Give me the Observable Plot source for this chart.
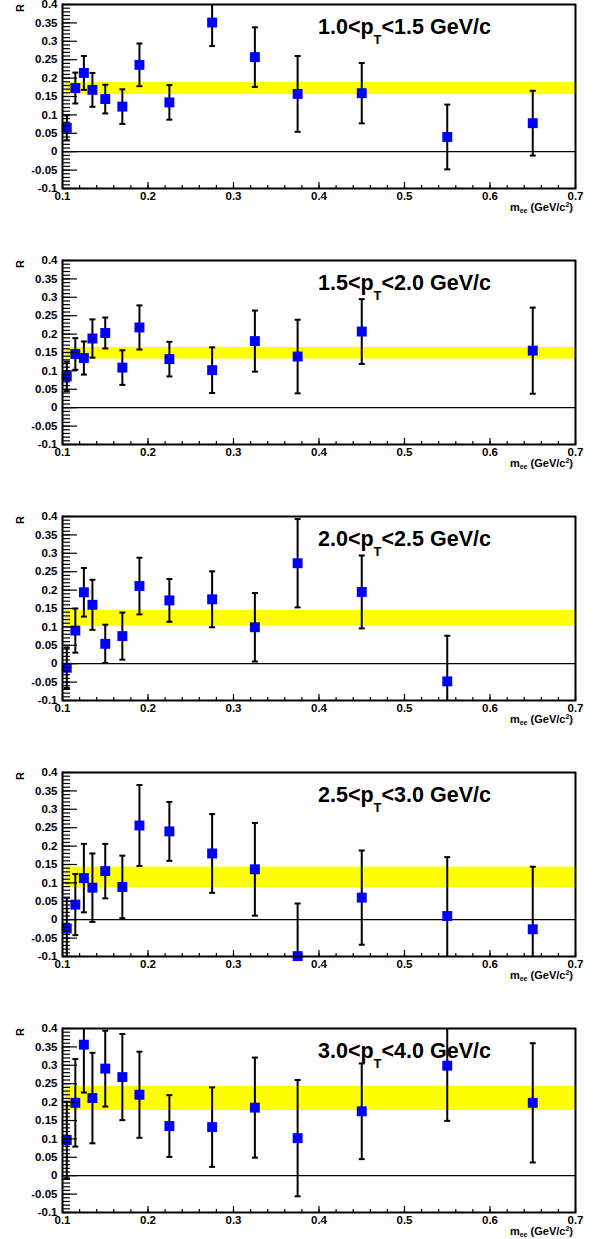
<!DOCTYPE html>
<html><head><meta charset="utf-8">
<script src="https://cdn.jsdelivr.net/npm/d3@7"></script>
<script src="https://cdn.jsdelivr.net/npm/@observablehq/plot@0.6"></script>
<style>
body{margin:0;background:#fff;overflow:hidden;}
#chart{padding-top:1px;}
#chart svg{display:block;overflow:visible;}
</style></head><body><div id="chart"></div>
<script>
// x positions (m_ee, GeV/c^2)
const mee = [0.105,0.115,0.125,0.135,0.15,0.17,0.19,0.225,0.275,0.325,0.375,0.45,0.55,0.65];

// panel titles: [before subscript, subscript, after subscript]
const titles = [
  ["1.0<p","T","<1.5 GeV/c"],
  ["1.5<p","T","<2.0 GeV/c"],
  ["2.0<p","T","<2.5 GeV/c"],
  ["2.5<p","T","<3.0 GeV/c"],
  ["3.0<p","T","<4.0 GeV/c"]
];

// R values and errors per panel (null = no point)
const r1 = [0.065,0.173,0.214,0.168,0.143,0.1225,0.236,0.134,0.351,0.257,0.157,0.159,0.040,0.0775];
const e1 = [0.034,0.042,0.046,0.046,0.039,0.047,0.058,0.047,0.064,0.081,0.103,0.082,0.088,0.088];
const r2 = [0.085,0.146,0.135,0.188,0.203,0.109,0.218,0.132,0.102,0.181,0.139,0.207,null,0.155];
const e2 = [0.040,0.043,0.045,0.052,0.042,0.047,0.060,0.047,0.062,0.083,0.100,0.088,null,0.117];
const r3 = [-0.011,0.090,0.194,0.160,0.054,0.075,0.211,0.172,0.175,0.099,0.273,0.195,-0.048,null];
const e3 = [0.055,0.060,0.066,0.068,0.052,0.064,0.077,0.058,0.076,0.093,0.120,0.099,0.124,null];
const r4 = [-0.024,0.041,0.113,0.087,0.132,0.089,0.256,0.240,0.180,0.137,-0.099,0.060,0.010,-0.026];
const e4 = [0.084,0.083,0.093,0.093,0.074,0.085,0.110,0.080,0.107,0.126,0.143,0.128,0.160,0.170];
const r5 = [0.097,0.198,0.356,0.211,0.291,0.268,0.220,0.135,0.132,0.185,0.102,0.175,0.299,0.198];
const e5 = [0.104,0.119,0.130,0.123,0.103,0.117,0.117,0.084,0.108,0.136,0.158,0.130,0.150,0.162];

// yellow band (fit result) per panel
const bandLow  = [0.155,0.132,0.102,0.087,0.177];
const bandHigh = [0.188,0.164,0.145,0.143,0.243];
const bandX1 = 0.104, bandX2 = 0.7;

// axis tick labels
const yTickLabels = [-0.1,-0.05,0,0.05,0.1,0.15,0.2,0.25,0.3,0.35,0.4];
const xTickLabels = [0.1,0.2,0.3,0.4,0.5,0.6,0.7];
const yMinorTicks = d3.range(-10,41).map(i => i/100);
const xMinorTicks = d3.range(5,36).map(i => i/50);

const values = [r1,r2,r3,r4,r5];
const errors = [e1,e2,e3,e4,e5];

const W = 600, ML = 62, MR = 25, MT = 3, PH = 184;
const FW = W - ML - MR;
const font = "'Liberation Sans', Arial, Helvetica, sans-serif";
const capSymbol = {draw(ctx){ ctx.moveTo(-3,0); ctx.lineTo(3,0); }};
const fmt = d => String(d);

const container = document.getElementById("chart");
values.forEach((vals, p) => {
  const rows = mee.map((x,i) => ({x, v: vals[i], e: errors[p][i]})).filter(d => d.v !== null);
  const H = p === 4 ? 214 : 256;
  const plot = Plot.plot({
    width: W, height: H,
    marginLeft: ML, marginRight: MR, marginTop: MT, marginBottom: H - MT - PH,
    style: {fontFamily: font, fontSize: "11.5px", fontWeight: "bold", background: "#fff", color: "black", overflow: "visible"},
    x: {domain: [0.1, 0.7], ticks: xTickLabels, tickSize: 0, tickPadding: 3, tickFormat: fmt, label: null},
    y: {domain: [-0.1, 0.4], ticks: yTickLabels, tickSize: 0, tickPadding: 5, tickFormat: fmt, label: null},
    marks: [
      Plot.rect([{x1: bandX1, x2: bandX2, y1: bandLow[p], y2: bandHigh[p]}], {x1:"x1", x2:"x2", y1:"y1", y2:"y2", fill:"#ffff00"}),
      Plot.ruleY([0], {stroke:"black", strokeWidth:1.2}),
      Plot.ruleX(rows, {x:"x", y1: d => d.v - d.e, y2: d => d.v + d.e, stroke:"black", strokeWidth:2, clip:true}),
      Plot.dot(rows, {x:"x", y: d => d.v + d.e, symbol: capSymbol, r: 3, fill:"none", stroke:"black", strokeWidth:2, clip:true}),
      Plot.dot(rows, {x:"x", y: d => d.v - d.e, symbol: capSymbol, r: 3, fill:"none", stroke:"black", strokeWidth:2, clip:true}),
      Plot.dot(rows, {x:"x", y:"v", symbol:"square", r:5.6, fill:"#0000ff"}),
      Plot.tickY(yMinorTicks, {y: d => d, stroke:"black", strokeWidth:1.2, insetRight: FW - 8}),
      Plot.tickY(yTickLabels, {y: d => d, stroke:"black", strokeWidth:1.2, insetRight: FW - 15}),
      Plot.tickX(xMinorTicks, {x: d => d, stroke:"black", strokeWidth:1.2, insetTop: PH - 3}),
      Plot.tickX(xTickLabels, {x: d => d, stroke:"black", strokeWidth:1.2, insetTop: PH - 6}),
      Plot.frame({stroke:"black", strokeWidth:2})
    ]
  });
  const svg = d3.select(plot);
  svg.selectAll("text").attr("font-weight", "bold").attr("font-size", 11.5).attr("font-family", font);
  // panel title
  const t = svg.append("text").attr("x", ML + 256).attr("y", MT + 30).attr("text-anchor", "start")
    .attr("font-size", 21.5).attr("font-weight", "bold").attr("font-family", font).attr("fill", "black");
  t.append("tspan").text(titles[p][0]);
  t.append("tspan").attr("dy", 10).attr("font-size", 13).text(titles[p][1]);
  t.append("tspan").attr("dy", -10).text(titles[p][2]);
  // y title
  svg.append("text").attr("transform", `translate(24,${MT}) rotate(-90)`).attr("text-anchor","end")
    .attr("font-size", 11).attr("font-weight","bold").attr("font-family", font).text("R");
  // x title
  const xt = svg.append("text").attr("x", ML + FW - 2).attr("y", MT + PH + 22.5).attr("text-anchor","end")
    .attr("font-size", 11).attr("font-weight","bold").attr("font-family", font);
  xt.append("tspan").text("m");
  xt.append("tspan").attr("dy", 2).attr("font-size", 7).text("ee");
  xt.append("tspan").attr("dy", -2).text(" (GeV/c");
  xt.append("tspan").attr("dy", -4).attr("font-size", 7).text("2");
  xt.append("tspan").attr("dy", 4).text(")");
  container.appendChild(plot);
});
</script></body></html>
